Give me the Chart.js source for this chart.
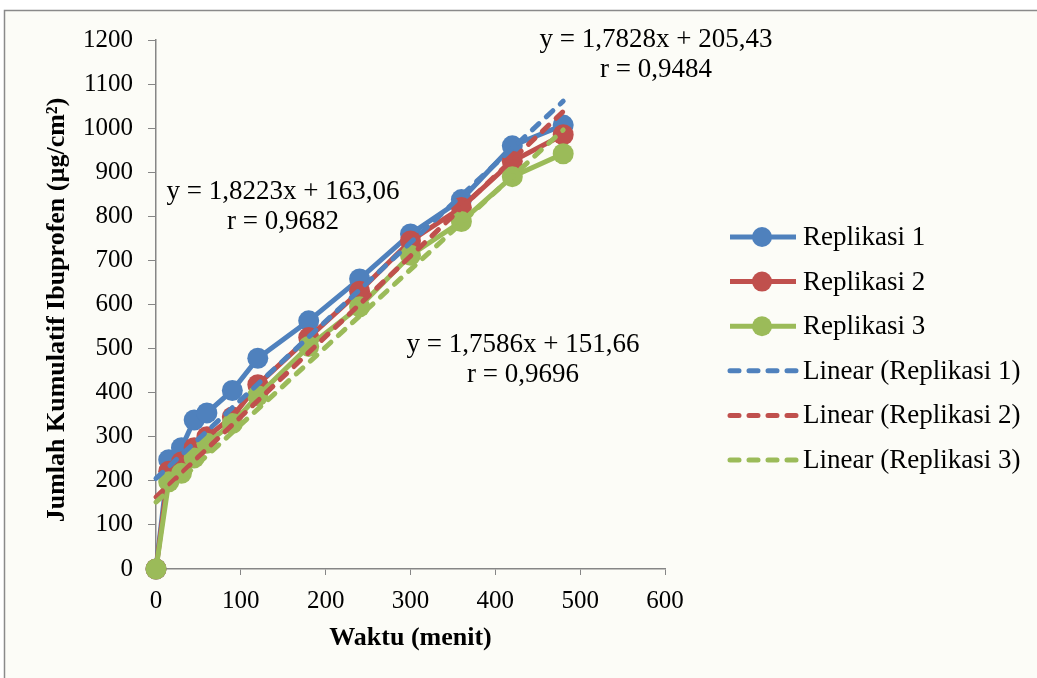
<!DOCTYPE html>
<html>
<head>
<meta charset="utf-8">
<script src="https://cdn.jsdelivr.net/npm/chart.js@4.4.1/dist/chart.umd.min.js"></script>
<style>
html,body{margin:0;padding:0;background:#ffffff;}
#wrap{width:1037px;height:678px;position:relative;}
</style>
</head>
<body>
<div id="wrap"><canvas id="c" width="1037" height="678"></canvas></div>
<script>
// ---- data ----
const time = [0, 15, 30, 45, 60, 90, 120, 180, 240, 300, 360, 420, 480];
const rep1 = [0, 248, 275, 338, 354, 405, 478, 563, 658, 760, 838, 960, 1007];
const rep2 = [0, 222, 243, 275, 300, 345, 418, 525, 630, 744, 820, 925, 985];
const rep3 = [0, 198, 217, 252, 285, 330, 393, 505, 595, 712, 788, 890, 942];
const seriesNames = ['Replikasi 1', 'Replikasi 2', 'Replikasi 3'];
const trendSlope = [1.7828, 1.8223, 1.7586];
const trendIntercept = [205.43, 163.06, 151.66];
const trendR = ['0,9484', '0,9682', '0,9696'];
const eqLabels = ['y = 1,7828x + 205,43', 'y = 1,8223x + 163,06', 'y = 1,7586x + 151,66'];
const xTicks = [0, 100, 200, 300, 400, 500, 600];
const yTicks = [0, 100, 200, 300, 400, 500, 600, 700, 800, 900, 1000, 1100, 1200];
const xTitle = 'Waktu (menit)';
const yTitle = 'Jumlah Kumulatif Ibuprofen (µg/cm²)';

const colors = ['#4F81BD', '#C0504D', '#9BBB59'];
const FONT = "'Liberation Serif', 'Times New Roman', serif";
const allSeries = [rep1, rep2, rep3];

function pts(arr) { return time.map((t, i) => ({x: t, y: arr[i]})); }
function trendPts(k) {
  const x0 = time[0], x1 = time[time.length - 1];
  return [{x: x0, y: trendIntercept[k] + trendSlope[k] * x0}, {x: x1, y: trendIntercept[k] + trendSlope[k] * x1}];
}

const datasets = [];
for (let k = 0; k < 3; k++) {
  datasets.push({
    label: seriesNames[k], data: pts(allSeries[k]), showLine: true,
    borderColor: colors[k], backgroundColor: colors[k], borderWidth: 5,
    pointRadius: 10.5, pointHoverRadius: 10.5, pointBorderWidth: 0,
    order: 10 - k, kind: 'series', clip: false
  });
}
for (let k = 0; k < 3; k++) {
  datasets.push({
    label: 'Linear (' + seriesNames[k] + ')', data: trendPts(k), showLine: true,
    borderColor: colors[k], backgroundColor: colors[k], borderWidth: 5,
    borderDash: [9, 10], borderCapStyle: 'round', pointRadius: 0,
    order: 3 - k, kind: 'trend', clip: false
  });
}

const bgPlugin = {
  id: 'bg',
  beforeDraw(chart) {
    const ctx = chart.ctx;
    ctx.save();
    ctx.fillStyle = '#ffffff';
    ctx.fillRect(0, 0, chart.width, chart.height);
    ctx.fillStyle = '#fcfcf7';
    ctx.fillRect(4, 10, chart.width - 4, chart.height - 10);
    ctx.strokeStyle = '#8a8a8a';
    ctx.lineWidth = 1.5;
    ctx.beginPath();
    ctx.moveTo(4.5, chart.height); ctx.lineTo(4.5, 10.5); ctx.lineTo(chart.width, 10.5);
    ctx.stroke();
    ctx.restore();
  }
};

const textPlugin = {
  id: 'texts',
  afterDraw(chart) {
    const ctx = chart.ctx;
    const ca = chart.chartArea;
    ctx.save();
    ctx.fillStyle = '#000';
    // axis titles
    ctx.font = 'bold 26px ' + FONT;
    ctx.textAlign = 'center'; ctx.textBaseline = 'middle';
    ctx.fillText(xTitle, (ca.left + ca.right) / 2, 638);
    ctx.save();
    ctx.translate(57, 310);
    ctx.rotate(-Math.PI / 2);
    ctx.fillText(yTitle, 0, 0);
    ctx.restore();
    // equations
    ctx.font = '27px ' + FONT;
    const eqPos = [[656, 40], [283, 192], [523, 345]];
    for (let k = 0; k < 3; k++) {
      ctx.fillText(eqLabels[k], eqPos[k][0], eqPos[k][1]);
      ctx.fillText('r = ' + trendR[k], eqPos[k][0], eqPos[k][1] + 30);
    }
    // legend
    ctx.textAlign = 'left';
    chart.data.datasets.forEach((ds, i) => {
      const y = 237 + i * 44.6;
      ctx.save();
      ctx.strokeStyle = ds.borderColor; ctx.lineWidth = 5;
      if (ds.kind === 'trend') { ctx.setLineDash([9, 10]); ctx.lineCap = 'round'; }
      ctx.beginPath(); ctx.moveTo(730, y); ctx.lineTo(796, y); ctx.stroke();
      if (ds.kind === 'series') {
        ctx.fillStyle = ds.backgroundColor;
        ctx.beginPath(); ctx.arc(762, y, 10, 0, Math.PI * 2); ctx.fill();
      }
      ctx.restore();
      ctx.fillText(ds.label, 803, y + 1);
    });
    ctx.restore();
  }
};

new Chart(document.getElementById('c'), {
  type: 'scatter',
  data: {datasets},
  plugins: [bgPlugin, textPlugin],
  options: {
    responsive: false, animation: false,
    layout: {padding: {top: 40, right: 372, left: 0, bottom: 0}},
    plugins: {legend: {display: false}, tooltip: {enabled: false}},
    scales: {
      x: {
        type: 'linear', min: 0, max: 600,
        afterBuildTicks(s) { s.ticks = xTicks.map(v => ({value: v})); },
        afterFit(s) { s.height = 109; },
        grid: {drawOnChartArea: false, drawTicks: true, tickLength: 6, color: '#868686'},
        border: {color: '#868686', width: 1.5},
        ticks: {color: '#000', font: {family: FONT, size: 25}, padding: 11, maxRotation: 0,
                callback: v => String(v)}
      },
      y: {
        type: 'linear', min: 0, max: 1200,
        afterBuildTicks(s) { s.ticks = yTicks.map(v => ({value: v})); },
        afterFit(s) { s.width = 156; },
        grid: {drawOnChartArea: false, drawTicks: true, tickLength: 8, color: '#868686'},
        border: {color: '#868686', width: 1.5},
        ticks: {color: '#000', font: {family: FONT, size: 25}, padding: 15,
                callback: v => String(v)}
      }
    }
  }
});
</script>
</body>
</html>
